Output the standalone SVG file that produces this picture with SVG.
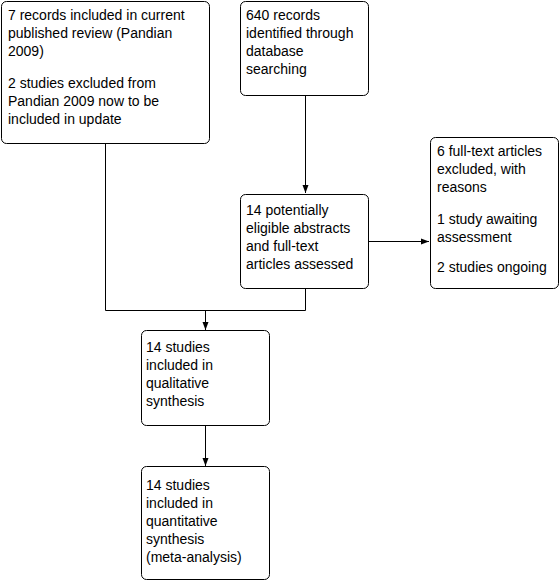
<svg xmlns="http://www.w3.org/2000/svg" width="560" height="581" viewBox="0 0 560 581">
<style>
.box{fill:#fff;stroke:#000;stroke-width:1}
.t{font-family:"Liberation Sans",Arial,sans-serif;font-size:14px;fill:#000}
.c{fill:none;stroke:#000;stroke-width:1}
</style>
<defs>
<marker id="ah" viewBox="0 0 8 8" refX="8" refY="4" markerWidth="8" markerHeight="8" markerUnits="userSpaceOnUse" orient="auto">
<path d="M0,1 L8,4 L0,7 Z" fill="#000"/>
</marker>
</defs>
<rect width="560" height="581" fill="#fff"/>
<g id="connectors">
<path class="c" d="M105.5,143 V310.5 H305.5 V289"/>
<path class="c" d="M205.5,310.5 V330" marker-end="url(#ah)"/>
<path class="c" d="M305.5,95 V193" marker-end="url(#ah)"/>
<path class="c" d="M369,241.5 H429" marker-end="url(#ah)"/>
<path class="c" d="M205.5,425 V466" marker-end="url(#ah)"/>
</g>
<g id="n1">
<rect class="box" x="1.5" y="1.5" width="208" height="142" rx="5"/>
<text class="t" x="8"><tspan x="8" y="20">7 records included in current</tspan><tspan x="8" y="38">published review (Pandian</tspan><tspan x="8" y="56">2009)</tspan><tspan x="8" y="88">2 studies excluded from</tspan><tspan x="8" y="106">Pandian 2009 now to be</tspan><tspan x="8" y="124">included in update</tspan></text>
</g>
<g id="n2">
<rect class="box" x="240.5" y="1.5" width="128" height="94" rx="5"/>
<text class="t"><tspan x="246" y="20">640 records</tspan><tspan x="246" y="38">identified through</tspan><tspan x="246" y="56">database</tspan><tspan x="246" y="74">searching</tspan></text>
</g>
<g id="n3">
<rect class="box" x="240.5" y="194.5" width="128" height="94" rx="5"/>
<text class="t"><tspan x="246" y="215">14 potentially</tspan><tspan x="246" y="233">eligible abstracts</tspan><tspan x="246" y="251">and full-text</tspan><tspan x="246" y="269">articles assessed</tspan></text>
</g>
<g id="n4">
<rect class="box" x="430.5" y="137.5" width="128" height="151" rx="5"/>
<text class="t"><tspan x="437" y="156">6 full-text articles</tspan><tspan x="437" y="174">excluded, with</tspan><tspan x="437" y="192">reasons</tspan><tspan x="437" y="224">1 study awaiting</tspan><tspan x="437" y="242">assessment</tspan><tspan x="437" y="272">2 studies ongoing</tspan></text>
</g>
<g id="n5">
<rect class="box" x="141.5" y="330.5" width="128" height="95" rx="5"/>
<text class="t"><tspan x="146" y="352">14 studies</tspan><tspan x="146" y="370">included in</tspan><tspan x="146" y="388">qualitative</tspan><tspan x="146" y="406">synthesis</tspan></text>
</g>
<g id="n6">
<rect class="box" x="141.5" y="466.5" width="128" height="113" rx="5"/>
<text class="t"><tspan x="146" y="490">14 studies</tspan><tspan x="146" y="508">included in</tspan><tspan x="146" y="526">quantitative</tspan><tspan x="146" y="544">synthesis</tspan><tspan x="146" y="562">(meta-analysis)</tspan></text>
</g>
</svg>
